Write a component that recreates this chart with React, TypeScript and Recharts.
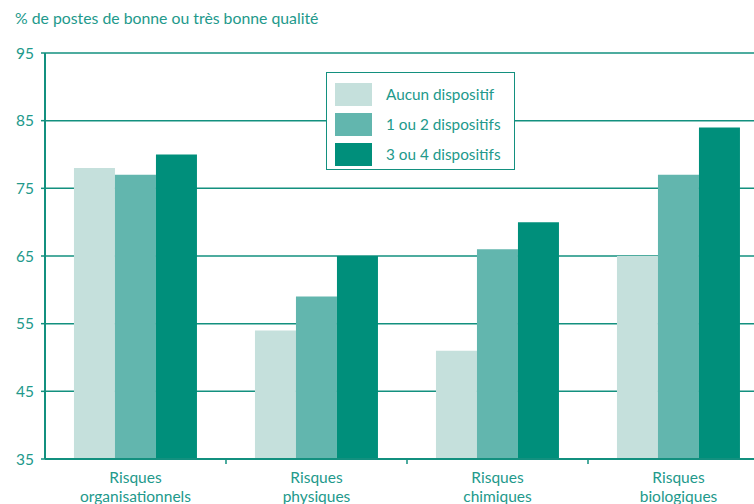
import { BarChart, Bar, XAxis, YAxis, CartesianGrid } from 'recharts';

const categories = ['Risques organisationnels', 'Risques physiques', 'Risques chimiques', 'Risques biologiques'];
const aucun = [78, 54, 51, 65];
const unOuDeux = [77, 59, 66, 77];
const troisOuQuatre = [80, 65, 70, 84];
const yTicks = [35, 45, 55, 65, 75, 85, 95];

const SERIES = [
  { key: 'aucun', name: 'Aucun dispositif', color: '#c5e0dc' },
  { key: 'unOuDeux', name: '1 ou 2 dispositifs', color: '#62b6ae' },
  { key: 'troisOuQuatre', name: '3 ou 4 dispositifs', color: '#008f7b' },
];

const TEAL = '#13907f';
const TEXT = '#22998b';
const FONT = 'Lato, "Open Sans", sans-serif';

const data = categories.map((name, i) => ({
  name,
  aucun: aucun[i],
  unOuDeux: unOuDeux[i],
  troisOuQuatre: troisOuQuatre[i],
}));

// label in two lines, plus a small tick at the left edge of each category band
function CategoryTick({ x, y, payload }: any) {
  const words = String(payload.value).split(' ');
  const half = payload.offset ?? 0;
  return (
    <g>
      {payload.index > 0 && (
        <line x1={x - half} x2={x - half} y1={y - 8} y2={y - 3} stroke={TEAL} strokeWidth={1.5} />
      )}
      <text x={x} y={y} textAnchor="middle" fill={TEXT} fontSize={15.5} fontFamily={FONT}>
        {words.map((w, i) => (
          <tspan key={w} x={x} dy={i === 0 ? 16 : 19}>{w}</tspan>
        ))}
      </text>
    </g>
  );
}

function LegendBox() {
  return (
    <div
      style={{
        position: 'absolute',
        left: 326,
        top: 72,
        width: 189,
        height: 98,
        boxSizing: 'border-box',
        border: `1.5px solid ${TEAL}`,
        background: '#fff',
        padding: '6px 0 0 8px',
        fontFamily: FONT,
        fontSize: 15.3,
        color: TEXT,
      }}
    >
      {SERIES.map((s) => (
        <div key={s.key} style={{ display: 'flex', alignItems: 'center', height: 30 }}>
          <span style={{ width: 37, height: 23, background: s.color, marginRight: 14 }} />
          {s.name}
        </div>
      ))}
    </div>
  );
}

export default function App() {
  return (
    <div style={{ position: 'absolute', left: 0, top: 0, width: 754, height: 504, overflow: 'hidden', background: '#fff' }}>
      <div style={{ position: 'absolute', left: 15, top: 8, fontFamily: FONT, fontSize: 15.8, color: TEXT }}>
        % de postes de bonne ou très bonne qualité
      </div>
      <BarChart
        width={770}
        height={504}
        data={data}
        margin={{ top: 53, right: 1, bottom: 0, left: 0 }}
        barCategoryGap="16%"
        barGap={0}
      >
        <CartesianGrid vertical={false} stroke={TEAL} strokeWidth={1.5} />
        <XAxis
          dataKey="name"
          height={45}
          tickLine={false}
          axisLine={{ stroke: TEAL, strokeWidth: 2 }}
          tick={<CategoryTick />}
          interval={0}
        />
        <YAxis
          domain={[35, 95]}
          ticks={yTicks}
          width={45}
          tickSize={4}
          tickMargin={7}
          axisLine={{ stroke: TEAL, strokeWidth: 2 }}
          tickLine={{ stroke: TEAL, strokeWidth: 1.5 }}
          tick={{ fill: TEXT, fontSize: 15.5, fontFamily: FONT }}
          allowDataOverflow
        />
        {SERIES.map((s) => (
          <Bar key={s.key} dataKey={s.key} name={s.name} fill={s.color} isAnimationActive={false} />
        ))}
      </BarChart>
      <LegendBox />
    </div>
  );
}
